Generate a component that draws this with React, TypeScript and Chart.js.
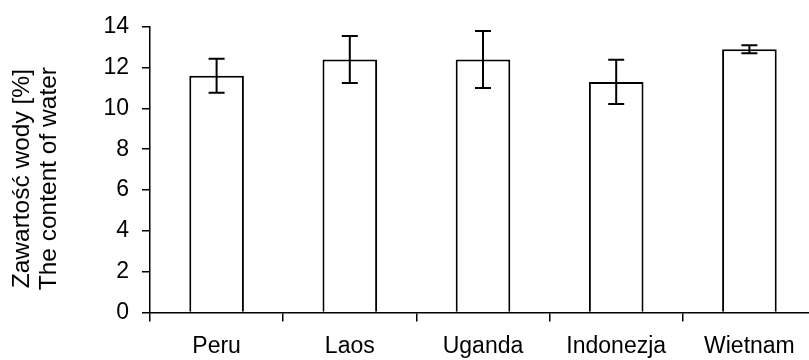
import React, { useEffect, useRef } from "react";
import { Chart, registerables } from "chart.js";

Chart.register(...registerables);

const categories = ["Peru", "Laos", "Uganda", "Indonezja", "Wietnam"];
const waterContent = [11.6, 12.4, 12.4, 11.3, 12.9];
const waterError = [0.83, 1.15, 1.4, 1.08, 0.19];
const yTitle = ["Zawartość wody [%]", "The content of water"];
const yMin = 0;
const yMax = 14;
const yStep = 2;

const FONT = "'Liberation Sans', Arial, sans-serif";

const errorBarPlugin = {
  id: "errorBars",
  afterDatasetsDraw(chart: any) {
    const ctx = chart.ctx;
    const meta = chart.getDatasetMeta(0);
    const yScale = chart.scales.y;
    ctx.save();
    ctx.strokeStyle = "#000";
    ctx.lineWidth = 2;
    meta.data.forEach((bar: any, i: number) => {
      const v = waterContent[i];
      const e = waterError[i];
      const x = bar.x;
      const yt = yScale.getPixelForValue(v + e);
      const yb = yScale.getPixelForValue(v - e);
      const cap = 8;
      ctx.beginPath();
      ctx.moveTo(x, yt);
      ctx.lineTo(x, yb);
      ctx.moveTo(x - cap, yt);
      ctx.lineTo(x + cap, yt);
      ctx.moveTo(x - cap, yb);
      ctx.lineTo(x + cap, yb);
      ctx.stroke();
    });
    ctx.restore();
  },
};

const yTitlePlugin = {
  id: "yTitle",
  afterDraw(chart: any) {
    const ctx = chart.ctx;
    const area = chart.chartArea;
    const cy = (area.top + area.bottom) / 2 + 9;
    ctx.save();
    ctx.fillStyle = "#000";
    ctx.font = `24.5px ${FONT}`;
    ctx.textAlign = "center";
    ctx.textBaseline = "middle";
    const xs = [22, 49];
    yTitle.forEach((line, i) => {
      ctx.save();
      ctx.translate(xs[i], cy);
      ctx.rotate(-Math.PI / 2);
      ctx.fillText(line, 0, 0);
      ctx.restore();
    });
    ctx.restore();
  },
};

export default function App() {
  const ref = useRef<HTMLCanvasElement>(null);

  useEffect(() => {
    if (!ref.current) return;
    const chart = new Chart(ref.current, {
      type: "bar",
      data: {
        labels: categories,
        datasets: [
          {
            data: waterContent,
            backgroundColor: "#fff",
            borderColor: "#000",
            borderWidth: 2,
            categoryPercentage: 1,
            barPercentage: 0.41,
          },
        ],
      },
      options: {
        responsive: false,
        animation: false,
        layout: { padding: { top: 21, right: 4, left: 0, bottom: 0 } },
        plugins: {
          legend: { display: false },
          tooltip: { enabled: false },
        },
        scales: {
          x: {
            offset: true,
            grid: {
              offset: true,
              drawOnChartArea: false,
              drawTicks: true,
              tickLength: 9,
              color: "#000",
              lineWidth: 1.5,
            },
            border: { display: true, color: "#000", width: 1.5 },
            ticks: {
              color: "#000",
              font: { family: FONT, size: 23 },
              padding: 11,
              maxRotation: 0,
              autoSkip: false,
            },
            afterFit: (s: any) => {
              s.height = 47.5;
            },
          },
          y: {
            min: yMin,
            max: yMax,
            grid: {
              drawOnChartArea: false,
              drawTicks: true,
              tickLength: 8,
              color: "#000",
              lineWidth: 1.5,
            },
            border: { display: true, color: "#000", width: 1.5 },
            ticks: {
              stepSize: yStep,
              color: "#000",
              font: { family: FONT, size: 23 },
              padding: 13,
            },
            title: { display: false },
            afterFit: (s: any) => {
              s.width = 150;
            },
          },
        },
      },
      plugins: [errorBarPlugin, yTitlePlugin],
    });
    return () => chart.destroy();
  }, []);

  return (
    <div
      style={{
        position: "absolute",
        left: 0,
        top: 0,
        width: 809,
        height: 360,
        overflow: "hidden",
        background: "#fff",
      }}
    >
      <canvas ref={ref} width={820} height={360} style={{ width: 820, height: 360 }} />
    </div>
  );
}
